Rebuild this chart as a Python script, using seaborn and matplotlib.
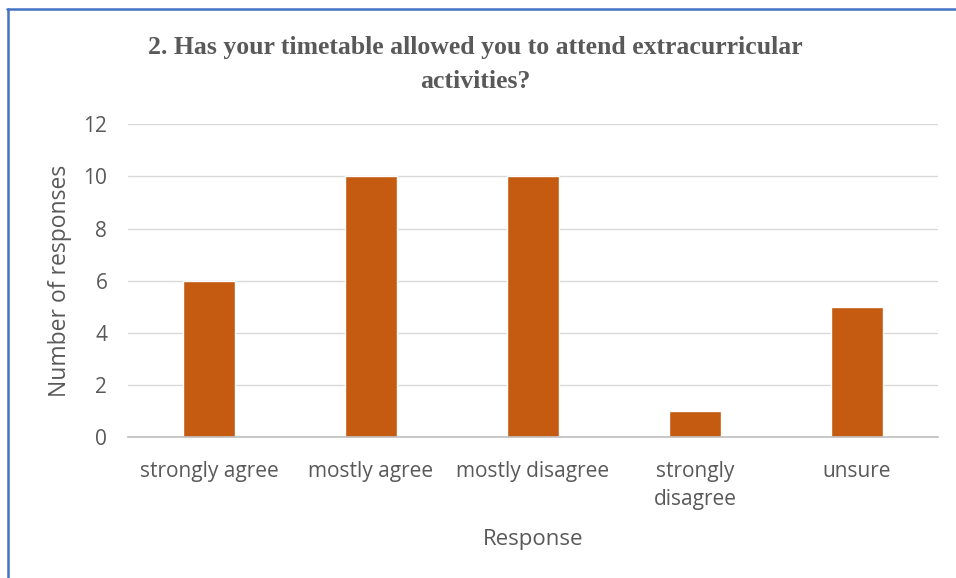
import matplotlib
matplotlib.use("Agg")
import matplotlib.pyplot as plt
import seaborn as sns
import pandas as pd
from matplotlib.lines import Line2D

# data
responses = ["strongly agree", "mostly agree", "mostly disagree", "strongly\ndisagree", "unsure"]
counts = [6, 10, 10, 1, 5]
y_ticks = [0, 2, 4, 6, 8, 10, 12]

df = pd.DataFrame({"Response": responses, "Count": counts})

sns.set_theme(style="white")
plt.rcParams["font.family"] = ["Open Sans", "DejaVu Sans"]

grey = "#595959"
fig = plt.figure(figsize=(9.56, 5.78), dpi=100)
ax = fig.add_axes([0.134, 0.244, 0.847, 0.541])

sns.barplot(data=df, x="Response", y="Count", color="#C55A11", width=0.32,
            saturation=1, ax=ax)

ax.set_ylim(0, 12)
ax.set_yticks(y_ticks)
ax.yaxis.grid(True, color="#D9D9D9", linewidth=1)
ax.set_axisbelow(True)
for s in ["top", "right", "left"]:
    ax.spines[s].set_visible(False)
ax.spines["bottom"].set_color("#BFBFBF")
ax.spines["bottom"].set_linewidth(1.2)
ax.tick_params(axis="both", length=0, labelsize=15, labelcolor=grey)
ax.tick_params(axis="x", pad=17)
ax.tick_params(axis="y", pad=15)
for lbl in ax.get_xticklabels():
    lbl.set_multialignment("center")
    lbl.set_linespacing(1.45)

ax.set_xlabel("Response", fontsize=16, color=grey, labelpad=14)
ax.set_ylabel("Number of responses", fontsize=16.5, color=grey, labelpad=8)

fig.text(0.497, 0.889, "2. Has your timetable allowed you to attend extracurricular\nactivities?",
         ha="center", va="center", fontsize=18.5, fontweight="bold", color=grey,
         family="Liberation Serif", linespacing=1.62)

# chart frame (top and left edges visible)
fig.add_artist(Line2D([7 / 956, 1.0], [1 - 8.5 / 578, 1 - 8.5 / 578],
                      transform=fig.transFigure, color="#4472C4", linewidth=1.8))
fig.add_artist(Line2D([7.5 / 956, 7.5 / 956], [0, 1 - 8.5 / 578],
                      transform=fig.transFigure, color="#4472C4", linewidth=1.8))

fig.savefig("out.png", dpi=100, facecolor="white")
